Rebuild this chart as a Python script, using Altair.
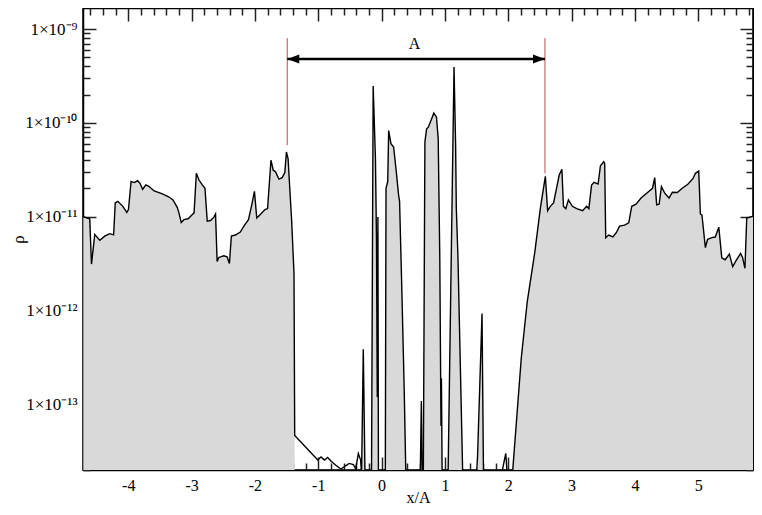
import altair as alt
import pandas as pd

# ---- density profile ----
x_vals = [
    -4.71, -4.609, -4.581, -4.529, -4.45, -4.372, -4.294, -4.231, -4.206, -4.164,
    -4.086, -4.023, -3.997, -3.956, -3.903, -3.852, -3.816, -3.773, -3.722, -3.669,
    -3.591, -3.461, -3.356, -3.294, -3.227, -3.2, -3.164, -3.122, -3.055, -2.992,
    -2.961, -2.925, -2.883, -2.831, -2.789, -2.753, -2.7, -2.648, -2.622, -2.597,
    -2.57, -2.492, -2.44, -2.403, -2.372, -2.309, -2.231, -2.164, -2.102, -2.05,
    -2.008, -1.971, -1.919, -1.841, -1.8, -1.747, -1.711, -1.675, -1.622, -1.57,
    -1.528, -1.503, -1.477, -1.42, -1.383, -1.372, -1.008, -0.956, -0.903, -0.852,
    -0.8, -0.722, -0.644, -0.591, -0.513, -0.445, -0.409, -0.367, -0.331, -0.316,
    -0.289, -0.262, -0.159, -0.133, -0.097, -0.081, -0.068, -0.058, -0.05, 0.059,
    0.07, 0.097, 0.112, 0.148, 0.19, 0.232, 0.268, 0.284, 0.32, 0.357,
    0.383, 0.611, 0.628, 0.64, 0.659, 0.684, 0.711, 0.738, 0.789, 0.825,
    0.867, 0.894, 0.919, 0.938, 0.945, 0.956, 1.05, 1.144, 1.169, 1.18,
    1.206, 1.281, 1.5, 1.516, 1.586, 1.609, 1.894, 1.961, 1.984, 2.066,
    2.206, 2.3, 2.419, 2.508, 2.586, 2.622, 2.664, 2.716, 2.805, 2.847,
    2.872, 2.909, 2.95, 3.013, 3.081, 3.175, 3.238, 3.273, 3.316, 3.356,
    3.419, 3.456, 3.508, 3.523, 3.539, 3.586, 3.653, 3.706, 3.758, 3.836,
    3.903, 3.95, 4.019, 4.097, 4.2, 4.278, 4.313, 4.344, 4.383, 4.419,
    4.472, 4.539, 4.591, 4.669, 4.747, 4.836, 4.919, 4.956, 5.008, 5.034,
    5.059, 5.113, 5.148, 5.216, 5.269, 5.325, 5.372, 5.425, 5.492, 5.544,
    5.597, 5.669, 5.7, 5.738, 5.766, 5.88,
]
rho_vals = [
    1.0e-11, 9.5e-12, 3.13e-12, 6.47e-12, 5.6e-12, 6.2e-12, 6.6e-12, 6.4e-12, 1.40e-11, 1.46e-11,
    1.29e-11, 1.11e-11, 1.19e-11, 2.37e-11, 2.31e-11, 2.42e-11, 2.27e-11, 1.96e-11, 2.18e-11, 2.09e-11,
    1.88e-11, 1.75e-11, 1.62e-11, 1.51e-11, 1.26e-11, 1.10e-11, 8.67e-12, 9.3e-12, 9.5e-12, 1.05e-11,
    1.10e-11, 2.90e-11, 2.46e-11, 2.18e-11, 2.01e-11, 8.95e-12, 9.1e-12, 9.9e-12, 1.07e-11, 3.34e-12,
    3.68e-12, 3.84e-12, 3.74e-12, 3.18e-12, 6.22e-12, 6.38e-12, 6.87e-12, 8.13e-12, 9.3e-12, 1.34e-11,
    1.86e-11, 9.7e-12, 1.05e-11, 1.19e-11, 1.22e-11, 4.0e-11, 3.13e-11, 3.02e-11, 2.52e-11, 2.61e-11,
    2.96e-11, 4.9e-11, 4.17e-11, 9.0e-12, 2.46e-12, 4.67e-14, 2.55e-14, 2.76e-14, 2.55e-14, 2.72e-14,
    2.50e-14, 2.25e-14, 2.05e-14, 2.16e-14, 2.35e-14, 2.29e-14, 2.05e-14, 2.99e-14, 2.55e-14, 1.8e-14,
    3.88e-13, 1.8e-14, 1.8e-14, 2.47e-10, 4.17e-11, 5.98e-12, 1.2e-13, 9.9e-12, 1.8e-14, 1.8e-14,
    2.01e-11, 2.37e-11, 8.28e-11, 6.0e-11, 5.53e-11, 3.02e-11, 1.71e-11, 1.46e-11, 1.64e-12, 1.45e-13,
    1.8e-14, 1.8e-14, 1.09e-13, 1.8e-14, 1.8e-14, 6.23e-11, 8.63e-11, 9.0e-11, 1.10e-10, 1.27e-10,
    1.15e-10, 6.76e-11, 3.68e-12, 5.9e-14, 1.9e-13, 1.8e-14, 1.8e-14, 3.94e-10, 5.75e-11, 1.24e-11,
    3.68e-12, 1.8e-14, 1.8e-14, 2.87e-14, 9.3e-13, 1.8e-14, 1.8e-14, 3.0e-14, 1.8e-14, 1.8e-14,
    3.12e-13, 1.24e-12, 4.16e-12, 1.24e-11, 2.69e-11, 1.16e-11, 1.29e-11, 1.40e-11, 2.78e-11, 3.21e-11,
    1.29e-11, 1.22e-11, 1.51e-11, 1.29e-11, 1.22e-11, 1.16e-11, 1.29e-11, 1.22e-11, 2.18e-11, 2.33e-11,
    2.23e-11, 3.49e-11, 3.85e-11, 3.69e-11, 5.98e-12, 6.38e-12, 6.08e-12, 6.75e-12, 7.94e-12, 8.13e-12,
    8.6e-12, 1.29e-11, 1.36e-11, 1.58e-11, 1.81e-11, 2.01e-11, 2.61e-11, 1.34e-11, 1.36e-11, 2.09e-11,
    1.78e-11, 1.58e-11, 1.82e-11, 1.81e-11, 2.01e-11, 2.22e-11, 2.56e-11, 2.90e-11, 3.06e-11, 1.07e-11,
    1.04e-11, 4.69e-12, 5.74e-12, 5.98e-12, 6.07e-12, 7.74e-12, 3.64e-12, 3.48e-12, 3.99e-12, 2.94e-12,
    3.40e-12, 4.06e-12, 3.68e-12, 2.82e-12, 9.7e-12, 1.02e-11,
]

# ---- annotation ----
marker_x = [-1.49, 2.58]
marker_low = [5.8e-11, 2.9e-11]
marker_high = [8.0e-10, 8.0e-10]
arrow_y = 4.8e-10
arrow_label = "A"
label_x = 0.52
label_y = 6.95e-10

# ---- axes ----
x_domain = [-4.715, 5.865]
y_domain = [2e-14, 1.675e-9]
x_ticks = [round(-4.6 + 0.2 * i, 1) for i in range(53)]
y_ticks = [k * 10.0 ** e for e in range(-14, -9) for k in range(1, 10)] + [1e-9]
y_ticks = [v for v in y_ticks if v >= 2e-14]
y_label_values = [1e-13, 1e-12, 1e-11, 1e-10, 1e-9]
y_label_texts = ["1×10⁻¹³", "1×10⁻¹²", "1×10⁻¹¹", "1×10⁻¹⁰", "1×10⁻⁹"]
x_title = "x/A"
y_title = "ρ"

FONT = "Liberation Serif"

df = pd.DataFrame({"x": x_vals, "rho": rho_vals})
marks_df = pd.DataFrame({"x": marker_x, "lo": marker_low, "hi": marker_high})
arrow_df = pd.DataFrame({"x1": [marker_x[0]], "x2": [marker_x[1]], "y": [arrow_y]})
heads_df = pd.DataFrame({"x": marker_x, "y": [arrow_y, arrow_y], "dir": ["left", "right"]})
text_df = pd.DataFrame({"x": [label_x], "y": [label_y], "t": [arrow_label]})

xscale = alt.Scale(type="linear", domain=x_domain, nice=False, zero=False)
yscale = alt.Scale(type="log", domain=y_domain, nice=False)

x_major = "abs(datum.value - round(datum.value)) < 0.001"
y_major = "abs(log(datum.value)/LN10 - round(log(datum.value)/LN10)) < 0.001"

y_expr = " : ".join(
    f"abs(datum.value/{v:g} - 1) < 1e-6 ? '{t}'" for v, t in zip(y_label_values, y_label_texts)
) + " : ''"


def x_axis(orient, show):
    kw = dict(
        orient=orient, values=x_ticks, grid=False,
        tickSize={"condition": {"test": x_major, "value": -13}, "value": -7},
        tickColor="#222222", tickWidth=1.5, domainColor="black", domainWidth=1.5,
    )
    if show:
        kw.update(
            title=x_title, labelExpr=f"{x_major} ? '' + round(datum.value) : ''",
            labelFont=FONT, labelFontSize=16, labelColor="black", labelPadding=20,
            titleFont=FONT, titleFontSize=16, titleFontWeight="normal", titleColor="black",
            titleY=27, titleBaseline="middle",
        )
    else:
        kw.update(labels=False, title=None)
    return alt.Axis(**kw)


def y_axis(orient, show):
    kw = dict(
        orient=orient, values=y_ticks, grid=False,
        tickSize={"condition": {"test": y_major, "value": -13}, "value": -7},
        tickColor="#222222", tickWidth=1.5, domainColor="black", domainWidth=1.5,
    )
    if show:
        kw.update(
            title=y_title, labelExpr=y_expr,
            labelFont=FONT, labelFontSize=17, labelColor="black", labelPadding=19,
            titleFont=FONT, titleFontSize=17, titleFontWeight="normal", titleColor="black",
            titleX=-65, titleBaseline="middle", titleAngle=270,
        )
    else:
        kw.update(labels=False, title=None)
    return alt.Axis(**kw)


base = alt.Chart(df)

area = base.transform_calculate(
    fillv="datum.rho < 1e-13 ? 2e-14 : datum.rho"
).mark_area(color="#d9d9d9", clip=True).encode(
    x=alt.X("x:Q", scale=xscale, axis=x_axis("bottom", True)),
    y=alt.Y("fillv:Q", scale=yscale, axis=y_axis("left", True)),
    y2=alt.datum(2e-14),
)

line = base.mark_line(color="black", strokeWidth=1.4, clip=True).encode(
    x=alt.X("x:Q", scale=xscale, axis=None),
    y=alt.Y("rho:Q", scale=yscale, axis=None),
)

mirror = base.mark_line(opacity=0).encode(
    x=alt.X("x:Q", scale=xscale, axis=x_axis("top", False)),
    y=alt.Y("rho:Q", scale=yscale, axis=y_axis("right", False)),
)

rules = alt.Chart(marks_df).mark_rule(color="#b85050", strokeWidth=1).encode(
    x=alt.X("x:Q", scale=xscale, axis=None),
    y=alt.Y("lo:Q", scale=yscale, axis=None),
    y2="hi:Q",
)

arrow = alt.Chart(arrow_df).mark_rule(color="black", strokeWidth=2.5).encode(
    x=alt.X("x1:Q", scale=xscale, axis=None),
    x2="x2:Q",
    y=alt.Y("y:Q", scale=yscale, axis=None),
)

heads = alt.Chart(heads_df).mark_point(filled=True, opacity=1, color="black", size=144).encode(
    x=alt.X("x:Q", scale=xscale, axis=None),
    y=alt.Y("y:Q", scale=yscale, axis=None),
    shape=alt.Shape(
        "dir:N",
        scale=alt.Scale(domain=["left", "right"],
                        range=["M0,0L2,-0.75L2,0.75Z", "M0,0L-2,-0.75L-2,0.75Z"]),
        legend=None,
    ),
)

label = alt.Chart(text_df).mark_text(font=FONT, fontSize=16, color="black",
                                     align="center", baseline="middle").encode(
    x=alt.X("x:Q", scale=xscale, axis=None),
    y=alt.Y("y:Q", scale=yscale, axis=None),
    text="t:N",
)

chart = alt.layer(area, line, rules, arrow, heads, label, mirror).resolve_axis(
    x="independent", y="independent"
).properties(
    width=670, height=462,
    autosize=alt.AutoSizeParams(type="none"),
    padding={"left": 75, "top": 0, "right": 1, "bottom": 37},
    background="white",
).configure_view(stroke="black", strokeWidth=1.5)

chart.save("out.html", embed_options={"renderer": "svg", "actions": False})
